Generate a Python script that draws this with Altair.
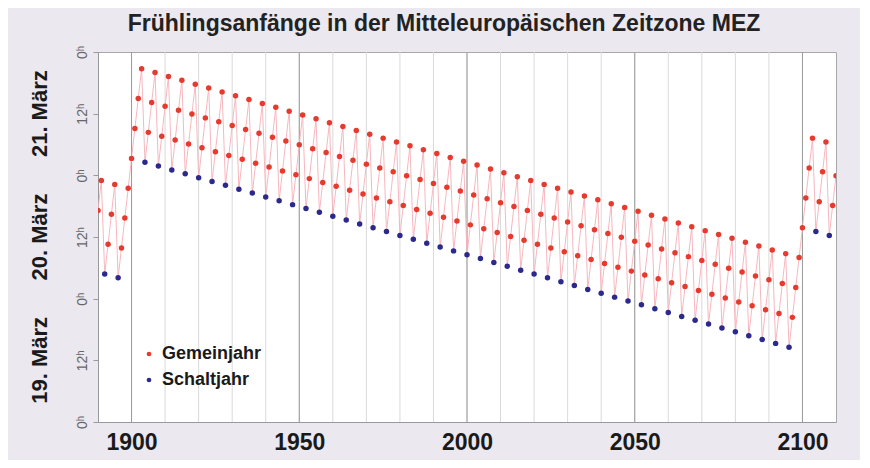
import altair as alt
import pandas as pd

# ---- data (hours after 19. März 0h MEZ) ----
years = list(range(1890, 2111))
hours = [
    41.18, 46.99,
    28.80, 34.61, 40.43, 46.24,
    28.05, 33.86, 39.68, 45.49,
    51.30, 57.11, 62.93, 68.74,
    50.55, 56.36, 62.18, 67.99,
    49.80, 55.61, 61.43, 67.24,
    49.05, 54.86, 60.68, 66.49,
    48.30, 54.11, 59.93, 65.74,
    47.55, 53.36, 59.18, 64.99,
    46.80, 52.61, 58.43, 64.24,
    46.05, 51.86, 57.68, 63.49,
    45.30, 51.11, 56.93, 62.74,
    44.55, 50.36, 56.18, 61.99,
    43.80, 49.61, 55.43, 61.24,
    43.05, 48.86, 54.68, 60.49,
    42.30, 48.11, 53.93, 59.74,
    41.55, 47.36, 53.18, 58.99,
    40.80, 46.61, 52.43, 58.24,
    40.05, 45.86, 51.68, 57.49,
    39.30, 45.11, 50.93, 56.74,
    38.55, 44.36, 50.18, 55.99,
    37.80, 43.61, 49.43, 55.24,
    37.05, 42.86, 48.68, 54.49,
    36.30, 42.11, 47.93, 53.74,
    35.55, 41.36, 47.18, 52.99,
    34.80, 40.61, 46.43, 52.24,
    34.05, 39.86, 45.68, 51.49,
    33.30, 39.11, 44.93, 50.74,
    32.55, 38.36, 44.18, 49.99,
    31.80, 37.61, 43.43, 49.24,
    31.05, 36.86, 42.68, 48.49,
    30.30, 36.11, 41.93, 47.74,
    29.55, 35.36, 41.18, 46.99,
    28.80, 34.61, 40.43, 46.24,
    28.05, 33.86, 39.68, 45.49,
    27.30, 33.11, 38.93, 44.74,
    26.55, 32.36, 38.18, 43.99,
    25.80, 31.61, 37.43, 43.24,
    25.05, 30.86, 36.68, 42.49,
    24.30, 30.11, 35.93, 41.74,
    23.55, 29.36, 35.18, 40.99,
    22.80, 28.61, 34.43, 40.24,
    22.05, 27.86, 33.68, 39.49,
    21.30, 27.11, 32.93, 38.74,
    20.55, 26.36, 32.18, 37.99,
    19.80, 25.61, 31.43, 37.24,
    19.05, 24.86, 30.68, 36.49,
    18.30, 24.11, 29.93, 35.74,
    17.55, 23.36, 29.18, 34.99,
    16.80, 22.61, 28.43, 34.24,
    16.05, 21.86, 27.68, 33.49,
    15.30, 21.11, 26.93, 32.74,
    14.55, 20.36, 26.18, 31.99,
    37.80, 43.61, 49.43, 55.24,
    37.05, 42.86, 48.68, 54.49,
    36.30, 42.11, 47.93,
]
types = ["Schaltjahr" if (y % 4 == 0 and (y % 100 != 0 or y % 400 == 0)) else "Gemeinjahr"
         for y in years]

decades = list(range(1900, 2101, 10))
majors = [1900, 1950, 2000, 2050, 2100]
x_labels = [1900, 1950, 2000, 2050, 2100]
y_ticks = [0, 12, 24, 36, 48, 60, 72]
day_names = ["19. März", "20. März", "21. März"]
day_mid = [12, 36, 60]

df = pd.DataFrame({"Jahr": years, "Stunden": hours, "Typ": types})
df_dec = pd.DataFrame({"Jahr": decades})
df_maj = pd.DataFrame({"Jahr": majors})
df_days = pd.DataFrame({"Tag": day_names, "Stunden": day_mid})

FONT = "Liberation Sans"

x_scale = alt.Scale(domain=[1890, 2110], nice=False, zero=False)
y_scale = alt.Scale(domain=[0, 72], nice=False, zero=True)

x_axis = alt.Axis(values=x_labels, format="d", title=None, grid=False, ticks=False,
                  labelFontSize=23, labelFontWeight="bold", labelColor="#1a1a1a",
                  labelFont=FONT, labelPadding=9, labelFlush=False,
                  domainColor="#999999")
y_axis = alt.Axis(values=y_ticks, title=None, grid=False,
                  labelExpr="datum.value % 24 == 0 ? '0ʰ' : '12ʰ'",
                  labelAngle=270, labelAlign="center", labelBaseline="bottom",
                  labelFontSize=14, labelColor="#666666", labelFont=FONT,
                  labelPadding=4, labelOverlap=False, tickSize=5,
                  tickColor="#999999", domainColor="#999999")

X = alt.X("Jahr:Q", scale=x_scale, axis=x_axis)
Y = alt.Y("Stunden:Q", scale=y_scale, axis=y_axis)

minor = alt.Chart(df_dec).mark_rule(color="#dadada", strokeWidth=1).encode(x=X)
major = alt.Chart(df_maj).mark_rule(color="#9a9a9a", strokeWidth=1).encode(x=X)

line = alt.Chart(df).mark_line(color="#f6b3bb", strokeWidth=1, opacity=0.95,
                               clip=True).encode(x=X, y=Y, order="Jahr:Q")

points = alt.Chart(df).mark_point(filled=True, size=30, opacity=1,
                                  clip=True).encode(
    x=X, y=Y,
    color=alt.Color("Typ:N",
                    scale=alt.Scale(domain=["Gemeinjahr", "Schaltjahr"],
                                    range=["#e63a2e", "#2b2a8c"]),
                    legend=alt.Legend(title=None, orient="none", legendX=42,
                                      legendY=293, symbolType="circle",
                                      symbolSize=22, labelFontSize=18,
                                      labelFontWeight="bold", labelColor="#1a1a1a",
                                      labelFont=FONT, rowPadding=8, padding=0,
                                      labelOffset=4)),
)

days = alt.Chart(df_days).mark_text(angle=270, align="center", baseline="middle",
                                    fontSize=22, fontWeight="bold", font=FONT,
                                    color="#1a1a1a").encode(
    x=alt.value(-58), y=Y, text="Tag:N")

chart = alt.layer(minor, major, line, points, days).properties(
    width=738, height=370,
    title=alt.TitleParams("Frühlingsanfänge in der Mitteleuropäischen Zeitzone MEZ",
                          fontSize=23, fontWeight="bold", font=FONT, color="#222222",
                          anchor="middle", offset=9, dx=-23),
    autosize=alt.AutoSizeParams(type="none"),
    padding={"left": 90, "top": 44, "right": 24, "bottom": 38},
).configure(background="#ebe8f0").configure_view(fill="white", stroke="#a8a8a8")

chart.save("out.html", embed_options={"renderer": "svg", "actions": False})
